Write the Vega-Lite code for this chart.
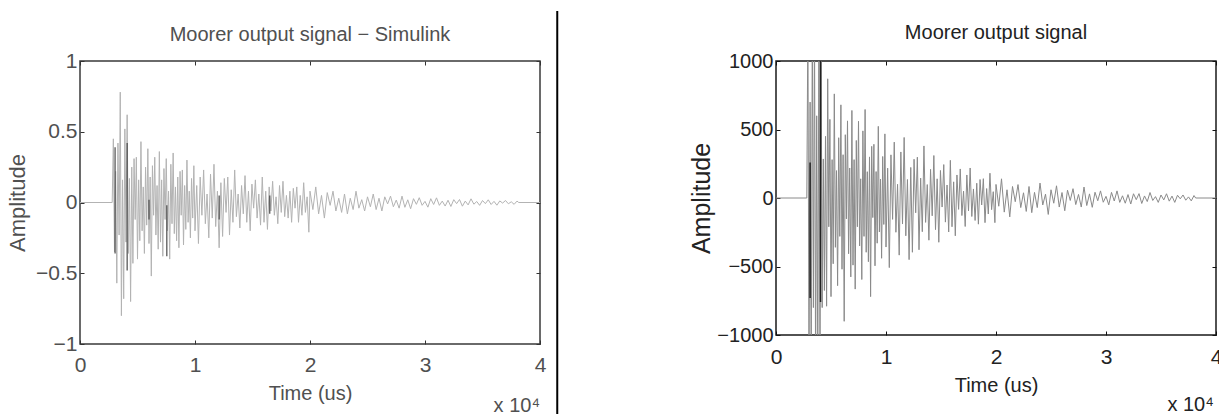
{
  "$schema": "https://vega.github.io/schema/vega-lite/v6.json",
  "background": "white",
  "padding": {"left": 5, "top": 9, "right": 0, "bottom": 0},
  "spacing": 129,
  "datasets": {
    "sig": [
      {"t":0,"a":0,"b":0},{"t":2800,"a":0,"b":0},
      {"t":2900,"a":0.45,"b":1300},{"t":3000,"a":-0.35,"b":-1300},{"t":3100,"a":0.22,"b":700},{"t":3200,"a":-0.57,"b":-1300},
      {"t":3300,"a":0.42,"b":1300},{"t":3400,"a":-0.23,"b":-800},{"t":3500,"a":0.78,"b":1300},{"t":3600,"a":-0.8,"b":-1300},
      {"t":3700,"a":0.16,"b":600},{"t":3800,"a":-0.68,"b":-1300},{"t":3900,"a":0.52,"b":1300},{"t":4000,"a":-0.28,"b":-1300},
      {"t":4100,"a":0.62,"b":1100},{"t":4200,"a":-0.36,"b":-800},{"t":4300,"a":0.17,"b":285},{"t":4400,"a":-0.7,"b":-675},
      {"t":4500,"a":0.25,"b":450},{"t":4600,"a":-0.43,"b":-790},{"t":4700,"a":0.31,"b":870},{"t":4800,"a":-0.12,"b":-210},
      {"t":4900,"a":0.32,"b":574},{"t":5000,"a":-0.4,"b":-720},{"t":5100,"a":0.16,"b":280},{"t":5200,"a":-0.27,"b":-480},
      {"t":5300,"a":0.43,"b":760},{"t":5400,"a":-0.2,"b":-360},{"t":5500,"a":0.11,"b":200},{"t":5600,"a":-0.36,"b":-640},
      {"t":5700,"a":0.25,"b":440},{"t":5800,"a":-0.16,"b":-280},{"t":5900,"a":0.38,"b":680},{"t":6000,"a":-0.29,"b":-520},
      {"t":6100,"a":0.18,"b":316},{"t":6200,"a":-0.52,"b":-900},{"t":6300,"a":0.26,"b":462},{"t":6400,"a":-0.09,"b":-152},
      {"t":6500,"a":0.32,"b":563},{"t":6600,"a":-0.23,"b":-407},{"t":6700,"a":0.12,"b":219},{"t":6800,"a":-0.33,"b":-576},
      {"t":6900,"a":0.36,"b":639},{"t":7000,"a":-0.28,"b":-490},{"t":7100,"a":0.16,"b":280},{"t":7200,"a":-0.38,"b":-665},
      {"t":7300,"a":0.24,"b":420},{"t":7400,"a":-0.12,"b":-210},{"t":7500,"a":0.31,"b":560},{"t":7600,"a":-0.2,"b":-350},
      {"t":7700,"a":0.08,"b":140},{"t":7800,"a":-0.4,"b":-595},{"t":7900,"a":0.27,"b":490},{"t":8000,"a":-0.15,"b":-280},
      {"t":8100,"a":0.35,"b":646},{"t":8200,"a":-0.22,"b":-396},{"t":8300,"a":0.11,"b":192},{"t":8400,"a":-0.27,"b":-465},
      {"t":8500,"a":0.18,"b":300},{"t":8600,"a":-0.32,"b":-720},{"t":8700,"a":0.22,"b":377},{"t":8800,"a":-0.09,"b":-143},
      {"t":8900,"a":0.23,"b":392},{"t":9000,"a":-0.3,"b":-495},{"t":9100,"a":0.12,"b":193},{"t":9200,"a":-0.19,"b":-330},
      {"t":9300,"a":0.3,"b":523},{"t":9400,"a":-0.14,"b":-248},{"t":9500,"a":0.08,"b":138},{"t":9600,"a":-0.25,"b":-440},
      {"t":9700,"a":0.17,"b":303},{"t":9800,"a":-0.11,"b":-193},{"t":9900,"a":0.26,"b":468},{"t":10000,"a":-0.2,"b":-358},
      {"t":10150,"a":0.12,"b":218},{"t":10300,"a":-0.29,"b":-508},{"t":10450,"a":0.18,"b":315},{"t":10600,"a":-0.09,"b":-156},
      {"t":10750,"a":0.23,"b":408},{"t":10900,"a":-0.15,"b":-250},{"t":11050,"a":0.06,"b":100},{"t":11200,"a":-0.25,"b":-417},
      {"t":11350,"a":0.2,"b":336},{"t":11500,"a":-0.11,"b":-190},{"t":11650,"a":0.27,"b":442},{"t":11800,"a":-0.17,"b":-276},
      {"t":11950,"a":0.08,"b":135},{"t":12100,"a":-0.32,"b":-450},{"t":12250,"a":0.14,"b":223},{"t":12400,"a":-0.24,"b":-396},
      {"t":12550,"a":0.17,"b":283},{"t":12700,"a":-0.07,"b":-108},{"t":12850,"a":0.18,"b":298},{"t":13000,"a":-0.23,"b":-378},
      {"t":13150,"a":0.09,"b":145},{"t":13300,"a":-0.14,"b":-246},{"t":13450,"a":0.23,"b":380},{"t":13600,"a":-0.1,"b":-178},
      {"t":13750,"a":0.06,"b":98},{"t":13900,"a":-0.18,"b":-308},{"t":14050,"a":0.12,"b":209},{"t":14200,"a":-0.08,"b":-130},
      {"t":14350,"a":0.19,"b":310},{"t":14500,"a":-0.14,"b":-231},{"t":14650,"a":0.08,"b":140},{"t":14800,"a":-0.2,"b":-323},
      {"t":14950,"a":0.13,"b":201},{"t":15100,"a":-0.04,"b":-66},{"t":15250,"a":0.16,"b":244},{"t":15400,"a":-0.11,"b":-176},
      {"t":15550,"a":0.06,"b":95},{"t":15700,"a":-0.16,"b":-248},{"t":15850,"a":0.18,"b":275},{"t":16000,"a":-0.14,"b":-210},
      {"t":16150,"a":0.08,"b":118},{"t":16300,"a":-0.19,"b":-276},{"t":16450,"a":0.11,"b":168},{"t":16600,"a":-0.06,"b":-83},
      {"t":16750,"a":0.15,"b":212},{"t":16900,"a":-0.09,"b":-128},{"t":17050,"a":0.04,"b":50},{"t":17200,"a":-0.15,"b":-208},
      {"t":17350,"a":0.12,"b":168},{"t":17500,"a":-0.07,"b":-94},{"t":17650,"a":0.15,"b":219},{"t":17800,"a":-0.1,"b":-135},
      {"t":17950,"a":0.05,"b":66},{"t":18100,"a":-0.11,"b":-164},{"t":18250,"a":0.08,"b":108},{"t":18400,"a":-0.14,"b":-191},
      {"t":18550,"a":0.1,"b":135},{"t":18700,"a":-0.04,"b":-51},{"t":18850,"a":0.11,"b":141},{"t":19000,"a":-0.14,"b":-180},
      {"t":19150,"a":0.05,"b":69},{"t":19300,"a":-0.09,"b":-117},{"t":19450,"a":0.14,"b":181},{"t":19600,"a":-0.07,"b":-85},
      {"t":19750,"a":0.04,"b":46},{"t":19900,"a":-0.21,"b":-180},{"t":20000,"a":0.08,"b":99},{"t":20250,"a":-0.05,"b":-60},
      {"t":20500,"a":0.11,"b":140},{"t":20750,"a":-0.08,"b":-103},{"t":21000,"a":0.05,"b":60},{"t":21250,"a":-0.11,"b":-138},
      {"t":21500,"a":0.07,"b":84},{"t":21750,"a":-0.02,"b":-27},{"t":22000,"a":0.08,"b":98},{"t":22250,"a":-0.06,"b":-70},
      {"t":22500,"a":0.03,"b":38},{"t":22750,"a":-0.07,"b":-98},{"t":23000,"a":0.06,"b":84},{"t":23250,"a":-0.08,"b":-107},
      {"t":23500,"a":0.03,"b":41},{"t":23750,"a":-0.05,"b":-70},{"t":24000,"a":0.08,"b":109},{"t":24250,"a":-0.04,"b":-51},
      {"t":24500,"a":0.02,"b":28},{"t":24750,"a":-0.06,"b":-120},{"t":25000,"a":0.04,"b":60},{"t":25250,"a":-0.03,"b":-38},
      {"t":25500,"a":0.06,"b":89},{"t":25750,"a":-0.05,"b":-66},{"t":26000,"a":0.03,"b":40},{"t":26250,"a":-0.06,"b":-93},
      {"t":26500,"a":0.04,"b":57},{"t":26750,"a":-0.01,"b":-18},{"t":27000,"a":0.045,"b":68},{"t":27250,"a":-0.03,"b":-48},
      {"t":27500,"a":0.017,"b":26},{"t":27750,"a":-0.04,"b":-66},{"t":28000,"a":0.045,"b":80},{"t":28250,"a":-0.034,"b":-55},
      {"t":28500,"a":0.019,"b":30},{"t":28750,"a":-0.044,"b":-68},{"t":29000,"a":0.027,"b":42},{"t":29250,"a":-0.013,"b":-20},
      {"t":29500,"a":0.034,"b":52},{"t":29750,"a":-0.02,"b":-31},{"t":30000,"a":0.008,"b":12},{"t":30250,"a":-0.033,"b":-50},
      {"t":30500,"a":0.027,"b":41},{"t":30750,"a":-0.014,"b":-22},{"t":31000,"a":0.033,"b":52},{"t":31250,"a":-0.02,"b":-32},
      {"t":31500,"a":0.01,"b":16},{"t":31750,"a":-0.025,"b":-38},{"t":32000,"a":0.016,"b":25},{"t":32250,"a":-0.028,"b":-44},
      {"t":32500,"a":0.02,"b":31},{"t":32750,"a":-0.008,"b":-12},{"t":33000,"a":0.021,"b":32},{"t":33250,"a":-0.026,"b":-40},
      {"t":33500,"a":0.01,"b":15},{"t":33750,"a":-0.017,"b":-26},{"t":34000,"a":0.026,"b":40},{"t":34250,"a":-0.012,"b":-18},
      {"t":34500,"a":0.007,"b":10},{"t":34750,"a":-0.02,"b":-32},{"t":35000,"a":0.014,"b":22},{"t":35250,"a":-0.008,"b":-14},
      {"t":35500,"a":0.019,"b":31},{"t":35750,"a":-0.014,"b":-23},{"t":36000,"a":0.008,"b":14},{"t":36250,"a":-0.019,"b":-32},
      {"t":36500,"a":0.011,"b":20},{"t":36750,"a":-0.004,"b":-6},{"t":37000,"a":0.014,"b":22},{"t":37250,"a":-0.009,"b":-16},
      {"t":37500,"a":0.005,"b":8},{"t":37750,"a":-0.013,"b":-21},{"t":38000,"a":0.01,"b":18},{"t":38150,"a":0,"b":0},
      {"t":40000,"a":0,"b":0}
    ],
    "darkA": [
      {"t":3050,"lo":-0.36,"hi":0.39},{"t":4100,"lo":-0.48,"hi":0.42},{"t":6000,"lo":-0.12,"hi":0.02},
      {"t":7550,"lo":-0.38,"hi":-0.02},{"t":12100,"lo":-0.12,"hi":0.05},{"t":16500,"lo":-0.08,"hi":0.05}
    ],
    "darkB": [
      {"t":3100,"lo":-730,"hi":260},{"t":4050,"lo":-760,"hi":1300}
    ],
    "one": [{"k":1}]
  },
  "hconcat": [
    {
      "width": 460,
      "height": 283,
      "view": {"stroke": "#3a3a3a", "strokeWidth": 1.5},
      "title": {"text": "Moorer output signal − Simulink", "font": "Liberation Sans", "fontSize": 20, "fontWeight": "normal", "color": "#505050", "frame": "group", "anchor": "middle", "offset": -35},
      "layer": [
        {
          "data": {"name": "sig"},
          "mark": {"type": "line", "color": "#b3b3b3", "strokeWidth": 1, "clip": true},
          "encoding": {
            "x": {"field": "t", "type": "quantitative", "scale": {"domain": [0, 40000], "nice": false, "zero": false},
              "axis": {"orient": "bottom", "values": [0, 10000, 20000, 30000, 40000], "labelExpr": "'' + (datum.value / 10000)", "title": "Time (us)", "domain": false, "grid": false, "tickSize": -4, "tickColor": "#333", "labelPadding": 14, "labelFont": "Liberation Sans", "labelFontSize": 21, "labelColor": "#505050", "labelFlush": false, "labelOverlap": false, "titleFont": "Liberation Sans", "titleFontSize": 20, "titleFontWeight": "normal", "titleColor": "#505050", "titlePadding": 8}},
            "y": {"field": "a", "type": "quantitative", "scale": {"domain": [-1, 1], "nice": false, "zero": false},
              "axis": {"orient": "left", "values": [-1, -0.5, 0, 0.5, 1], "format": "~g", "title": "Amplitude", "domain": false, "grid": false, "tickSize": -4, "tickColor": "#333", "labelPadding": 7, "labelFont": "Liberation Sans", "labelFontSize": 21, "labelColor": "#505050", "labelFlush": false, "labelOverlap": false, "titleFont": "Liberation Sans", "titleFontSize": 22, "titleFontWeight": "normal", "titleColor": "#505050", "titlePadding": 6}}
          }
        },
        {
          "data": {"name": "darkA"},
          "mark": {"type": "rule", "color": "#4a4a4a", "strokeWidth": 1.2},
          "encoding": {
            "x": {"field": "t", "type": "quantitative", "scale": {"domain": [0, 40000]}, "axis": null},
            "y": {"field": "lo", "type": "quantitative", "scale": {"domain": [-1, 1]}, "axis": null},
            "y2": {"field": "hi"}
          }
        },
        {
          "data": {"name": "one"},
          "mark": {"type": "point", "opacity": 0},
          "encoding": {
            "x": {"datum": 0, "type": "quantitative", "scale": {"domain": [0, 40000]},
              "axis": {"orient": "top", "values": [0, 10000, 20000, 30000, 40000], "labels": false, "title": null, "domain": false, "grid": false, "tickSize": -4, "tickColor": "#333"}},
            "y": {"datum": 0, "type": "quantitative", "scale": {"domain": [-1, 1]},
              "axis": {"orient": "right", "values": [-1, -0.5, 0, 0.5, 1], "labels": false, "title": null, "domain": false, "grid": false, "tickSize": -4, "tickColor": "#333"}}
          }
        },
        {
          "data": {"name": "one"},
          "mark": {"type": "rule", "color": "#000000", "strokeWidth": 2, "clip": false},
          "encoding": {
            "x": {"datum": 41500, "type": "quantitative", "scale": {"domain": [0, 40000]}, "axis": null},
            "y": {"datum": 1.353, "type": "quantitative", "scale": {"domain": [-1, 1]}, "axis": null},
            "y2": {"datum": -1.495}
          }
        },
        {
          "data": {"name": "one"},
          "mark": {"type": "text", "align": "right", "baseline": "middle", "font": "Liberation Sans", "fontSize": 20, "color": "#505050", "clip": false},
          "encoding": {
            "x": {"datum": 40000, "type": "quantitative", "scale": {"domain": [0, 40000]}, "axis": null},
            "y": {"datum": -1.438, "type": "quantitative", "scale": {"domain": [-1, 1]}, "axis": null},
            "text": {"value": "x 10⁴"}
          }
        }
      ],
      "resolve": {"axis": {"x": "independent", "y": "independent"}}
    },
    {
      "width": 440,
      "height": 274,
      "view": {"stroke": "#1a1a1a", "strokeWidth": 1.5},
      "title": {"text": "Moorer output signal", "font": "Liberation Sans", "fontSize": 20, "fontWeight": "normal", "color": "#222222", "frame": "group", "anchor": "middle", "offset": -32},
      "layer": [
        {
          "data": {"name": "sig"},
          "mark": {"type": "line", "color": "#8a8a8a", "strokeWidth": 1, "clip": true},
          "encoding": {
            "x": {"field": "t", "type": "quantitative", "scale": {"domain": [0, 40000], "nice": false, "zero": false},
              "axis": {"orient": "bottom", "values": [0, 10000, 20000, 30000, 40000], "labelExpr": "'' + (datum.value / 10000)", "title": "Time (us)", "domain": false, "grid": false, "tickSize": -4, "tickColor": "#111", "labelPadding": 15, "labelFont": "Liberation Sans", "labelFontSize": 21, "labelColor": "#222222", "labelFlush": false, "labelOverlap": false, "titleFont": "Liberation Sans", "titleFontSize": 20, "titleFontWeight": "normal", "titleColor": "#222222", "titlePadding": 8}},
            "y": {"field": "b", "type": "quantitative", "scale": {"domain": [-1000, 1000], "nice": false, "zero": false},
              "axis": {"orient": "left", "values": [-1000, -500, 0, 500, 1000], "format": "d", "title": "Amplitude", "domain": false, "grid": false, "tickSize": -4, "tickColor": "#111", "labelPadding": 7, "labelFont": "Liberation Sans", "labelFontSize": 20, "labelColor": "#222222", "labelFlush": false, "labelOverlap": false, "titleFont": "Liberation Sans", "titleFontSize": 25, "titleFontWeight": "normal", "titleColor": "#222222", "titlePadding": 2}}
          }
        },
        {
          "data": {"name": "darkB"},
          "mark": {"type": "rule", "color": "#222222", "strokeWidth": 1.5, "clip": true},
          "encoding": {
            "x": {"field": "t", "type": "quantitative", "scale": {"domain": [0, 40000]}, "axis": null},
            "y": {"field": "lo", "type": "quantitative", "scale": {"domain": [-1000, 1000]}, "axis": null},
            "y2": {"field": "hi"}
          }
        },
        {
          "data": {"name": "one"},
          "mark": {"type": "point", "opacity": 0},
          "encoding": {
            "x": {"datum": 0, "type": "quantitative", "scale": {"domain": [0, 40000]},
              "axis": {"orient": "top", "values": [0, 10000, 20000, 30000, 40000], "labels": false, "title": null, "domain": false, "grid": false, "tickSize": -4, "tickColor": "#111"}},
            "y": {"datum": 0, "type": "quantitative", "scale": {"domain": [-1000, 1000]},
              "axis": {"orient": "right", "values": [-1000, -500, 0, 500, 1000], "labels": false, "title": null, "domain": false, "grid": false, "tickSize": -4, "tickColor": "#111"}}
          }
        },
        {
          "data": {"name": "one"},
          "mark": {"type": "rule", "opacity": 0, "clip": false},
          "encoding": {
            "x": {"datum": 0, "type": "quantitative", "scale": {"domain": [0, 40000]}, "axis": null},
            "y": {"datum": 1365, "type": "quantitative", "scale": {"domain": [-1000, 1000]}, "axis": null},
            "y2": {"datum": 0}
          }
        },
        {
          "data": {"name": "one"},
          "mark": {"type": "text", "align": "right", "baseline": "middle", "font": "Liberation Sans", "fontSize": 20, "color": "#222222", "clip": false},
          "encoding": {
            "x": {"datum": 39800, "type": "quantitative", "scale": {"domain": [0, 40000]}, "axis": null},
            "y": {"datum": -1511, "type": "quantitative", "scale": {"domain": [-1000, 1000]}, "axis": null},
            "text": {"value": "x 10⁴"}
          }
        }
      ],
      "resolve": {"axis": {"x": "independent", "y": "independent"}}
    }
  ],
  "config": {
    "view": {"stroke": "#333"},
    "axis": {"grid": false}
  }
}
